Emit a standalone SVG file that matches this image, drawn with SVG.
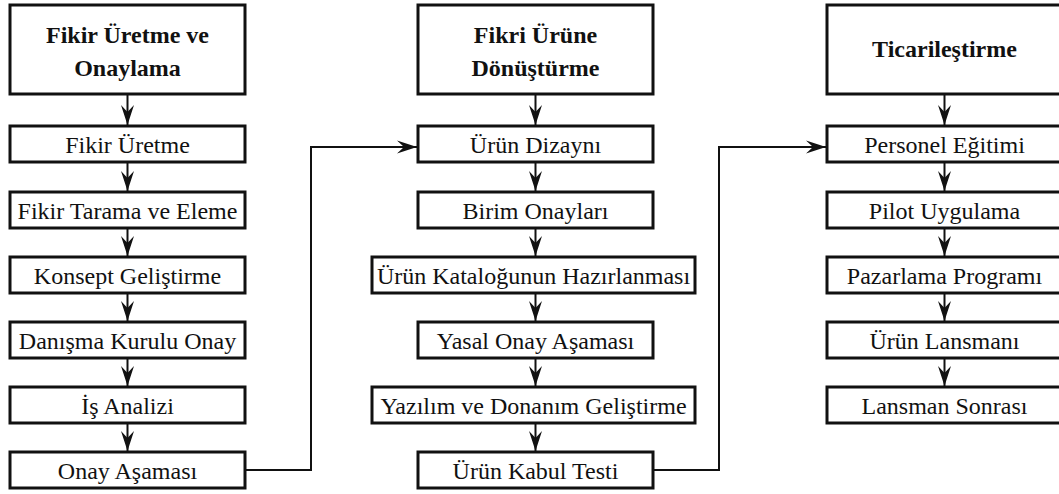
<svg xmlns="http://www.w3.org/2000/svg" width="1059" height="494" viewBox="0 0 1059 494" font-family="Liberation Serif">
<style>
.box{fill:#fff;stroke:#111;stroke-width:3}
.t{font-size:24px;fill:#111;text-anchor:middle}
.h{font-weight:bold}
.c{fill:none;stroke:#111;stroke-width:2}
</style>
<defs>
<marker id="ah" markerUnits="userSpaceOnUse" markerWidth="24" markerHeight="16" viewBox="-21 -8 22 16" refX="0" refY="0" orient="auto">
<path d="M0,0 L-20,-6.5 L-13,0 L-20,6.5 Z" fill="#111"/>
</marker>
</defs>
<rect width="1059" height="494" fill="#fff"/>
<g id="connectors">
<line class="c" x1="127.5" y1="94" x2="127.5" y2="125" marker-end="url(#ah)"/>
<line class="c" x1="127.5" y1="162" x2="127.5" y2="191" marker-end="url(#ah)"/>
<line class="c" x1="127.5" y1="228" x2="127.5" y2="256" marker-end="url(#ah)"/>
<line class="c" x1="127.5" y1="293" x2="127.5" y2="321" marker-end="url(#ah)"/>
<line class="c" x1="127.5" y1="358" x2="127.5" y2="386" marker-end="url(#ah)"/>
<line class="c" x1="127.5" y1="423" x2="127.5" y2="451" marker-end="url(#ah)"/>
<polyline class="c" points="245,470 311,470 311,147 417,147" marker-end="url(#ah)"/>
<line class="c" x1="535.5" y1="94" x2="535.5" y2="125" marker-end="url(#ah)"/>
<line class="c" x1="535.5" y1="162" x2="535.5" y2="191" marker-end="url(#ah)"/>
<line class="c" x1="535.5" y1="228" x2="535.5" y2="256" marker-end="url(#ah)"/>
<line class="c" x1="535.5" y1="293" x2="535.5" y2="321" marker-end="url(#ah)"/>
<line class="c" x1="535.5" y1="358" x2="535.5" y2="386" marker-end="url(#ah)"/>
<line class="c" x1="535.5" y1="423" x2="535.5" y2="451" marker-end="url(#ah)"/>
<polyline class="c" points="653,470 719,470 719,147 826,147" marker-end="url(#ah)"/>
<line class="c" x1="944.5" y1="94" x2="944.5" y2="125" marker-end="url(#ah)"/>
<line class="c" x1="944.5" y1="162" x2="944.5" y2="191" marker-end="url(#ah)"/>
<line class="c" x1="944.5" y1="228" x2="944.5" y2="256" marker-end="url(#ah)"/>
<line class="c" x1="944.5" y1="293" x2="944.5" y2="321" marker-end="url(#ah)"/>
<line class="c" x1="944.5" y1="358" x2="944.5" y2="386" marker-end="url(#ah)"/>
</g>
<g id="h1"><rect class="box" x="10" y="5" width="235" height="89"/><text class="t h" x="127.5" y="43">Fikir Üretme ve</text><text class="t h" x="127.5" y="76">Onaylama</text></g>
<g id="a1"><rect class="box" x="10" y="126" width="235" height="36"/><text class="t" x="127.5" y="153">Fikir Üretme</text></g>
<g id="a2"><rect class="box" x="10" y="192" width="235" height="36"/><text class="t" x="127.5" y="219">Fikir Tarama ve Eleme</text></g>
<g id="a3"><rect class="box" x="10" y="257" width="235" height="36"/><text class="t" x="127.5" y="284">Konsept Geliştirme</text></g>
<g id="a4"><rect class="box" x="10" y="322" width="235" height="36"/><text class="t" x="127.5" y="349">Danışma Kurulu Onay</text></g>
<g id="a5"><rect class="box" x="10" y="387" width="235" height="36"/><text class="t" x="127.5" y="414">İş Analizi</text></g>
<g id="a6"><rect class="box" x="10" y="452" width="235" height="36"/><text class="t" x="127.5" y="479">Onay Aşaması</text></g>
<g id="h2"><rect class="box" x="418" y="5" width="235" height="89"/><text class="t h" x="535.5" y="43">Fikri Ürüne</text><text class="t h" x="535.5" y="76">Dönüştürme</text></g>
<g id="b1"><rect class="box" x="418" y="126" width="235" height="36"/><text class="t" x="535.5" y="153">Ürün Dizaynı</text></g>
<g id="b2"><rect class="box" x="418" y="192" width="235" height="36"/><text class="t" x="535.5" y="219">Birim Onayları</text></g>
<g id="b3"><rect class="box" x="372" y="257" width="323" height="36"/><text class="t" x="533.5" y="284">Ürün Kataloğunun Hazırlanması</text></g>
<g id="b4"><rect class="box" x="418" y="322" width="235" height="36"/><text class="t" x="535.5" y="349">Yasal Onay Aşaması</text></g>
<g id="b5"><rect class="box" x="372" y="387" width="323" height="36"/><text class="t" x="533.5" y="414">Yazılım ve Donanım Geliştirme</text></g>
<g id="b6"><rect class="box" x="418" y="452" width="235" height="36"/><text class="t" x="535.5" y="479">Ürün Kabul Testi</text></g>
<g id="h3"><rect class="box" x="827" y="5" width="235" height="89"/><text class="t h" x="944.5" y="57">Ticarileştirme</text></g>
<g id="c1"><rect class="box" x="827" y="126" width="235" height="36"/><text class="t" x="944.5" y="153">Personel Eğitimi</text></g>
<g id="c2"><rect class="box" x="827" y="192" width="235" height="36"/><text class="t" x="944.5" y="219">Pilot Uygulama</text></g>
<g id="c3"><rect class="box" x="827" y="257" width="235" height="36"/><text class="t" x="944.5" y="284">Pazarlama Programı</text></g>
<g id="c4"><rect class="box" x="827" y="322" width="235" height="36"/><text class="t" x="944.5" y="349">Ürün Lansmanı</text></g>
<g id="c5"><rect class="box" x="827" y="387" width="235" height="36"/><text class="t" x="944.5" y="414">Lansman Sonrası</text></g>
</svg>
